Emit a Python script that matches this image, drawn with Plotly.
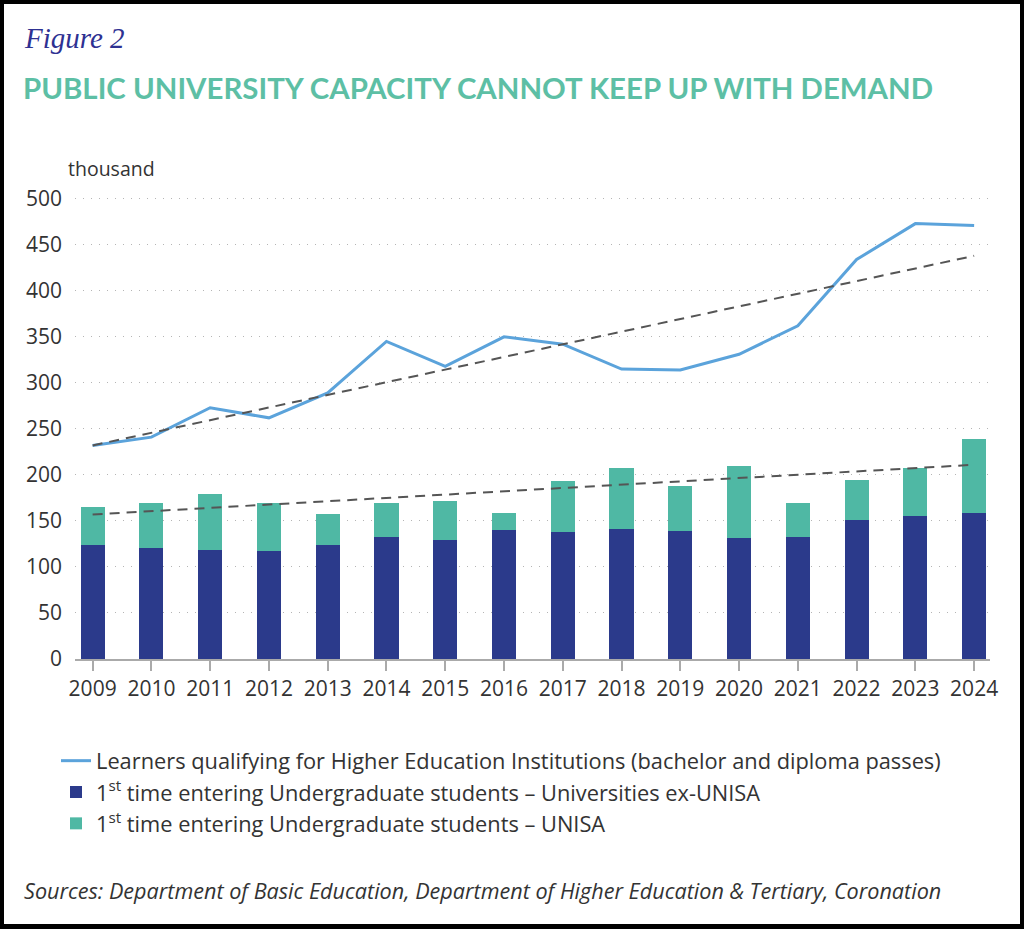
import plotly.graph_objects as go

years = list(range(2009, 2025))

# thousands
learners_qualifying = [232, 241, 273, 262, 289, 345, 318, 350, 342, 315, 314, 331, 362, 434, 473, 471]
entering_ex_unisa = [124, 121, 118, 117, 124, 133, 129, 140, 138, 141, 139, 131, 133, 151, 155, 159]
entering_unisa = [41, 48, 61, 53, 34, 36, 43, 19, 55, 67, 49, 79, 37, 44, 53, 80]

# dashed trend lines, end points
trend_years = [2009, 2024]
trend_learners = [232, 438]
trend_entering = [157, 211]

y_ticks = [0, 50, 100, 150, 200, 250, 300, 350, 400, 450, 500]

NAVY = '#2b3a8b'
TEAL = '#4fb8a4'
BLUE = '#5ba3db'
TEXT = '#333333'
FONT = 'Open Sans'

fig = go.Figure()

fig.add_trace(go.Bar(
    x=years, y=entering_ex_unisa,
    name='1<sup>st</sup> time entering Undergraduate students – Universities ex-UNISA',
    marker=dict(color=NAVY, line=dict(width=0)),
    width=0.41, legendrank=2, legendgroup='b',
))
fig.add_trace(go.Bar(
    x=years, y=entering_unisa,
    name='1<sup>st</sup> time entering Undergraduate students – UNISA',
    marker=dict(color=TEAL, line=dict(width=0)),
    width=0.41, legendrank=3, legendgroup='c',
))
fig.add_trace(go.Scatter(
    x=years, y=learners_qualifying, mode='lines',
    name='Learners qualifying for Higher Education Institutions (bachelor and diploma passes)',
    line=dict(color=BLUE, width=3),
    legendrank=1, legendgroup='a',
))
for trend in (trend_learners, trend_entering):
    fig.add_trace(go.Scatter(
        x=trend_years, y=trend, mode='lines', showlegend=False,
        line=dict(color='#555555', width=2, dash='10px,7px'),
    ))

# pixel helpers for the text around the plot (plot area: x 75..990, y 196..659)
def px(x):
    return (x - 75) / 915

def py(y):
    return (659 - y) / 463

fig.update_layout(
    width=1024, height=929,
    margin=dict(l=75, r=34, t=196, b=270),
    paper_bgcolor='black',
    plot_bgcolor='white',
    barmode='stack',
    font=dict(family=FONT, size=20, color=TEXT),
    showlegend=True,
    legend=dict(
        x=px(56), y=py(740), xanchor='left', yanchor='top',
        traceorder='normal', tracegroupgap=5,
        font=dict(family=FONT, size=21.8, color=TEXT),
        bgcolor='rgba(0,0,0,0)',
    ),
    xaxis=dict(
        range=[2008.7, 2024.27], tickmode='array', tickvals=years,
        ticks='outside', ticklen=10, tickcolor='#aaaaaa', tickwidth=1.5,
        showline=True, linecolor='#aaaaaa', linewidth=1.5,
        showgrid=False, tickfont=dict(size=21, color=TEXT),
        fixedrange=True,
    ),
    yaxis=dict(
        range=[0, 503], tickmode='array', tickvals=y_ticks,
        showgrid=True, gridcolor='#b5b5b5', gridwidth=1, griddash='1px,7px',
        zeroline=False, showline=False, ticks='', ticklabelstandoff=12,
        tickfont=dict(size=21, color=TEXT),
        fixedrange=True,
    ),
    shapes=[dict(
        type='rect', xref='paper', yref='paper', layer='below',
        x0=px(4), x1=px(1020), y0=py(924), y1=py(4),
        fillcolor='white', line=dict(width=0),
    )],
    annotations=[
        dict(text='Figure 2', x=px(22), y=py(38), xref='paper', yref='paper',
             xanchor='left', yanchor='middle', showarrow=False,
             font=dict(family='Liberation Serif', size=29, color='#2e3192', style='italic')),
        dict(text='<b>PUBLIC UNIVERSITY CAPACITY CANNOT KEEP UP WITH DEMAND</b>',
             x=px(21), y=py(88), xref='paper', yref='paper',
             xanchor='left', yanchor='middle', showarrow=False,
             font=dict(family='Lato', size=29.4, color='#5dbfa5')),
        dict(text='thousand', x=px(66), y=py(168), xref='paper', yref='paper',
             xanchor='left', yanchor='middle', showarrow=False,
             font=dict(family=FONT, size=19.5, color=TEXT)),
        dict(text='Sources: Department of Basic Education, Department of Higher Education &amp; Tertiary, Coronation',
             x=px(22), y=py(891), xref='paper', yref='paper',
             xanchor='left', yanchor='middle', showarrow=False,
             font=dict(family=FONT, size=21.6, color=TEXT, style='italic')),
    ],
)

# drop the browser's default page margin so the figure sits at 0,0
fig.write_html('out.html', config={'displayModeBar': False},
               post_script="document.body.style.margin='0';")
